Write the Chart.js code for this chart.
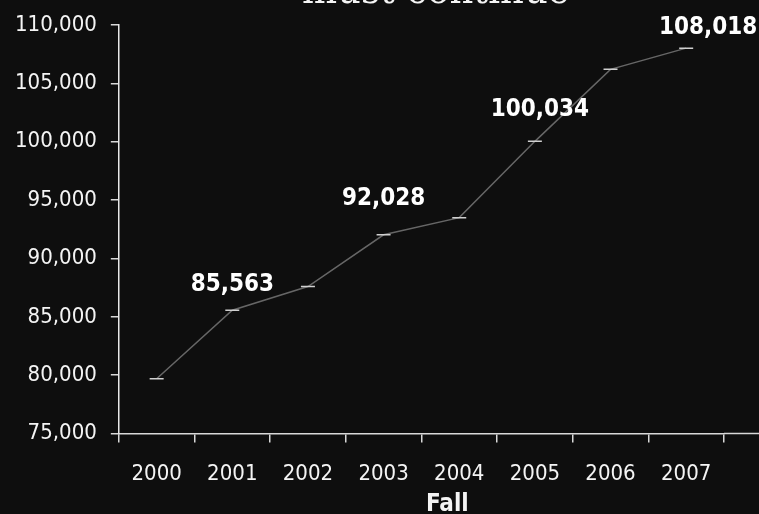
<!DOCTYPE html>
<html>
<head>
<meta charset="utf-8">
<script src="https://cdn.jsdelivr.net/npm/chart.js@4/dist/chart.umd.min.js"></script>
<style>
  html, body { margin: 0; padding: 0; background: #0e0e0e; overflow: hidden; }
  #wrap { position: relative; width: 759px; height: 514px; }
  #head {
    position: absolute; left: 302px; top: -31px; color: #f4f4f4;
    font: 37px "DejaVu Serif", serif; white-space: nowrap; line-height: normal;
  }
  #xtitle {
    position: absolute; left: 426px; top: 491px; color: #f4f4f4;
    font: bold 24px "DejaVu Sans Condensed", "DejaVu Sans", sans-serif; line-height: 24px;
  }
</style>
</head>
<body>
<div id="wrap">
  <canvas id="c" width="759" height="514"></canvas>
  <div id="head">must continue</div>
  <div id="xtitle">Fall</div>
</div>
<script>
// ── Data ─────────────────────────────────────────────────────────
const YEARS      = ['2000', '2001', '2002', '2003', '2004', '2005', '2006', '2007'];
const ENROLLMENT = [79700, 85563, 87600, 92028, 93500, 100034, 106200, 108018];
const LABELLED   = ['2001', '2003', '2005', '2007'];   // years with a value label
const Y_MIN = 75000, Y_MAX = 110000, Y_STEP = 5000;

const FONT = '"DejaVu Sans Condensed", "DejaVu Sans", sans-serif';

// label nudges (px) for the years that carry a value label
const LABEL_NUDGE = { '2001': [0, -26], '2003': [0, -36], '2005': [5, -32], '2007': [22, -20] };

const fmt = v => v.toLocaleString('en-US');

// value labels above the points + x-axis line running to the right edge
const decor = {
  id: 'decor',
  afterDatasetsDraw(chart) {
    const { ctx, chartArea } = chart;
    ctx.save();
    ctx.strokeStyle = '#d8d8d8';
    ctx.lineWidth = 1.5;
    ctx.beginPath();
    ctx.moveTo(chartArea.right, chartArea.bottom);
    ctx.lineTo(chart.width, chartArea.bottom);
    ctx.stroke();

    const meta = chart.getDatasetMeta(0);
    ctx.fillStyle = '#ffffff';
    ctx.font = 'bold 24px ' + FONT;
    ctx.textAlign = 'center';
    ctx.textBaseline = 'middle';
    YEARS.forEach((yr, i) => {
      if (!LABELLED.includes(yr)) return;
      const p = meta.data[i];
      const [dx, dy] = LABEL_NUDGE[yr];
      ctx.fillText(fmt(ENROLLMENT[i]), p.x + dx, p.y + dy);
    });
    ctx.restore();
  }
};

new Chart(document.getElementById('c').getContext('2d'), {
  type: 'line',
  data: {
    labels: YEARS,
    datasets: [{
      data: ENROLLMENT,
      borderColor: 'rgba(190,190,190,0.5)',
      borderWidth: 1.5,
      tension: 0,
      pointStyle: 'line',
      pointRadius: 7,
      pointBorderColor: '#d0d0d0',
      pointBorderWidth: 1.5,
    }]
  },
  options: {
    responsive: false,
    animation: false,
    events: [],
    layout: { padding: { left: 1, right: 35, top: 0, bottom: 9 } },
    plugins: { legend: { display: false }, tooltip: { enabled: false } },
    scales: {
      x: {
        offset: true,
        grid: { display: true, drawOnChartArea: false, offset: true, tickLength: 9, color: '#d8d8d8', lineWidth: 1.5 },
        border: { display: true, color: '#d8d8d8', width: 1.5 },
        ticks: { color: '#f4f4f4', font: { family: FONT, size: 22 }, padding: 18, maxRotation: 0 },
      },
      y: {
        min: Y_MIN, max: Y_MAX,
        grid: { display: true, drawOnChartArea: false, tickLength: 8, color: '#d8d8d8', lineWidth: 1.5 },
        border: { display: true, color: '#e8e8e8', width: 1.5 },
        ticks: { stepSize: Y_STEP, color: '#f4f4f4', font: { family: FONT, size: 22, lineHeight: 1 }, padding: 14, callback: v => fmt(v) },
      }
    }
  },
  plugins: [decor]
});
</script>
</body>
</html>
